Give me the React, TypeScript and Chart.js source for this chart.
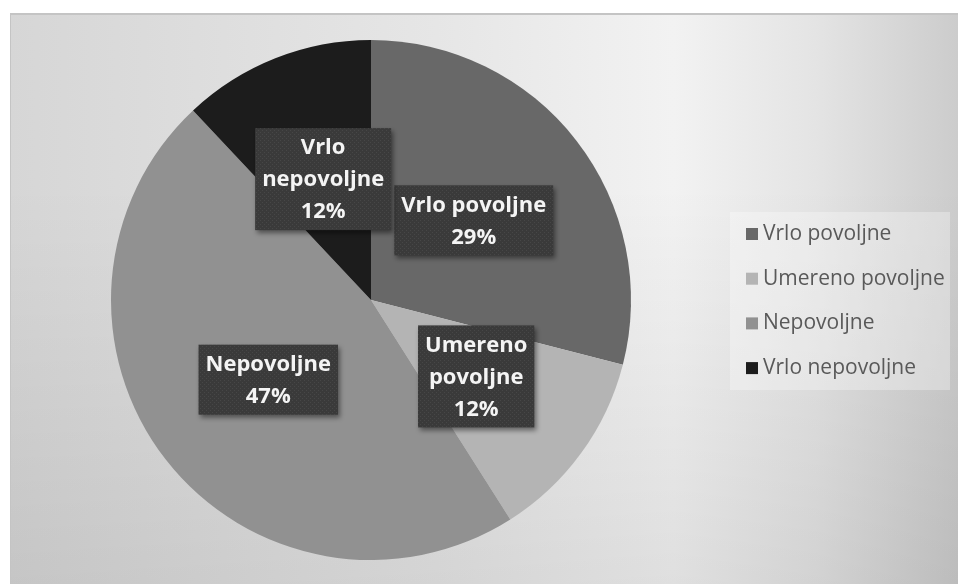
import React, { useEffect, useRef } from "react";
import { Chart, registerables } from "chart.js";

Chart.register(...registerables);

const categories = ["Vrlo povoljne", "Umereno povoljne", "Nepovoljne", "Vrlo nepovoljne"];
const values = [29, 12, 47, 12];
const labelLines = [["Vrlo povoljne"], ["Umereno", "povoljne"], ["Nepovoljne"], ["Vrlo", "nepovoljne"]];
const sliceColors = ["#686868", "#b4b4b4", "#919191", "#1c1c1c"];

const W = 958;
const H = 584;

function makePattern(ctx: CanvasRenderingContext2D) {
  const c = document.createElement("canvas");
  c.width = 4;
  c.height = 4;
  const p = c.getContext("2d")!;
  p.fillStyle = "#3a3a3a";
  p.fillRect(0, 0, 4, 4);
  p.fillStyle = "#474747";
  p.fillRect(0, 0, 1, 1);
  p.fillRect(2, 2, 1, 1);
  return ctx.createPattern(c, "repeat")!;
}

const bgPlugin = {
  id: "bgPlugin",
  beforeDraw(chart: any) {
    const ctx: CanvasRenderingContext2D = chart.ctx;
    ctx.save();
    ctx.fillStyle = "#ffffff";
    ctx.fillRect(0, 0, W, H);
    const x0 = 10, y0 = 13;
    const lg = ctx.createLinearGradient(x0, 0, W, 0);
    lg.addColorStop(0, "#d6d6d6");
    lg.addColorStop(0.45, "#e6e6e6");
    lg.addColorStop(0.7, "#f2f2f2");
    lg.addColorStop(0.85, "#e4e4e4");
    lg.addColorStop(1, "#cccccc");
    ctx.fillStyle = lg;
    ctx.fillRect(x0, y0, W - x0, H - y0);
    const vg = ctx.createLinearGradient(0, y0, 0, H);
    vg.addColorStop(0, "rgba(0,0,0,0)");
    vg.addColorStop(0.3, "rgba(0,0,0,0)");
    vg.addColorStop(1, "rgba(0,0,0,0.08)");
    ctx.fillStyle = vg;
    ctx.fillRect(x0, y0, W - x0, H - y0);
    ctx.fillStyle = "#c4c4c4";
    ctx.fillRect(x0, y0, W - x0, 2);
    ctx.fillRect(x0, y0, 1, H - y0);
    ctx.restore();
  },
};

const labelPlugin = {
  id: "labelPlugin",
  afterDatasetsDraw(chart: any) {
    const ctx: CanvasRenderingContext2D = chart.ctx;
    const meta = chart.getDatasetMeta(0);
    const pattern = makePattern(ctx);
    const lineH = 32;
    ctx.save();
    ctx.font = "bold 22px 'Open Sans'";
    meta.data.forEach((arc: any, i: number) => {
      const { x, y, startAngle, endAngle, outerRadius } = arc.getProps(
        ["x", "y", "startAngle", "endAngle", "outerRadius"],
        true
      );
      const mid = (startAngle + endAngle) / 2;
      const cx = x + Math.cos(mid) * outerRadius * 0.5;
      const cy = y + Math.sin(mid) * outerRadius * 0.5;
      const lines = [...labelLines[i], Math.round(values[i]) + "%"];
      const tw = Math.max(...lines.map((l) => ctx.measureText(l).width));
      const bw = tw + 14;
      const bh = lines.length * lineH + 6;
      const bx = cx - bw / 2;
      const by = cy - bh / 2;
      ctx.save();
      ctx.shadowColor = "rgba(0,0,0,0.45)";
      ctx.shadowBlur = 5;
      ctx.shadowOffsetX = 2;
      ctx.shadowOffsetY = 3;
      ctx.fillStyle = pattern;
      ctx.fillRect(bx, by, bw, bh);
      ctx.restore();
      ctx.fillStyle = "#f4f4f4";
      ctx.textAlign = "center";
      ctx.textBaseline = "middle";
      lines.forEach((l, k) => {
        ctx.fillText(l, cx, by + 4 + lineH * (k + 0.5));
      });
    });
    ctx.restore();
  },
};

const legendPlugin = {
  id: "legendPlugin",
  afterDraw(chart: any) {
    const ctx: CanvasRenderingContext2D = chart.ctx;
    ctx.save();
    ctx.fillStyle = "rgba(255,255,255,0.3)";
    ctx.fillRect(730, 212, 220, 178);
    ctx.font = "21px 'Open Sans'";
    ctx.textBaseline = "middle";
    ctx.textAlign = "left";
    categories.forEach((c, i) => {
      const yy = 234 + i * 44.7;
      ctx.fillStyle = sliceColors[i];
      ctx.fillRect(746, yy - 6, 12, 12);
      ctx.fillStyle = "#595959";
      ctx.fillText(c, 763, yy);
    });
    ctx.restore();
  },
};

export default function App() {
  const ref = useRef<HTMLCanvasElement>(null);
  useEffect(() => {
    const chart = new Chart(ref.current!, {
      type: "pie",
      data: {
        labels: categories,
        datasets: [
          {
            data: values,
            backgroundColor: sliceColors,
            borderWidth: 0,
          },
        ],
      },
      options: {
        responsive: false,
        animation: false,
        layout: { padding: { left: 111, right: 327, top: 40, bottom: 24 } },
        plugins: {
          legend: { display: false },
          tooltip: { enabled: false },
        },
      },
      plugins: [bgPlugin, labelPlugin, legendPlugin],
    });
    return () => chart.destroy();
  }, []);
  return (
    <div style={{ position: "fixed", left: 0, top: 0, width: W, height: H }}>
      <canvas ref={ref} width={W} height={H} style={{ width: W, height: H }} />
    </div>
  );
}
